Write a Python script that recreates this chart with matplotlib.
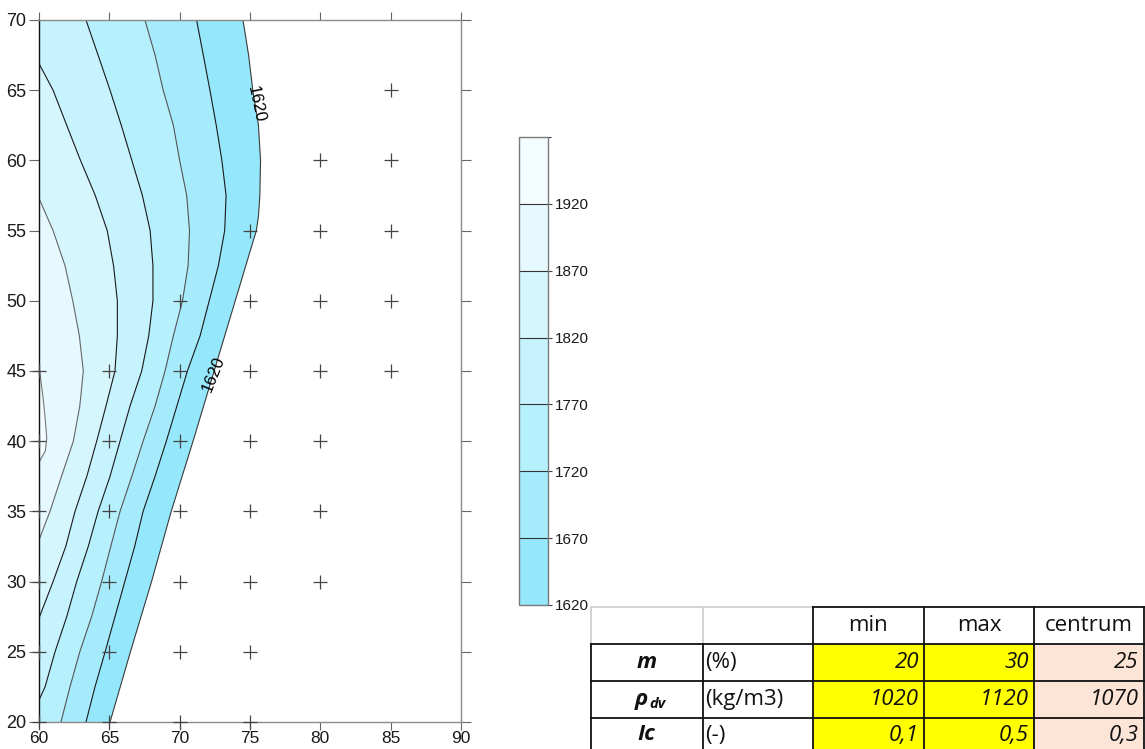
import numpy as np
import matplotlib
matplotlib.use('Agg')
import matplotlib.pyplot as plt
from matplotlib.colors import ListedColormap, BoundaryNorm
from matplotlib.cm import ScalarMappable

plt.rcParams['font.family'] = ['Liberation Sans', 'DejaVu Sans']

# ---------------- data ----------------
levels = [1620, 1670, 1720, 1770, 1820, 1870, 1920, 1970]
band_colors = ['#95E7FB', '#A6EBFC', '#B6F0FD', '#C6F3FD', '#D6F6FE', '#E6F9FE', '#F3FCFF']
line_colors = ['#3a3a3a', '#1a1a1a', '#555555', '#1a1a1a', '#1a1a1a', '#666666', '#777777']

# isolines: x position of each contour level along y
iso_1620_y = [20, 25, 30, 35, 40, 45, 50, 52.5, 55, 56, 57.5, 60, 62.5, 65, 67.5, 70]
iso_1620_x = [65.05, 66.5, 68.0, 69.4, 70.95, 72.45, 73.95, 74.7, 75.45, 75.6, 75.7, 75.75, 75.6, 75.2, 74.9, 74.5]

iso_1670_y = [20, 22.5, 25, 27.5, 30, 32.5, 35, 37.5, 40, 42.5, 45, 47.5, 50, 52.5, 55, 57.5, 60, 62.5, 65, 67.5, 70]
iso_1670_x = [63.34, 63.98, 64.7, 65.4, 66.1, 66.8, 67.4, 68.25, 69.05, 69.8, 70.55, 71.45, 72.1, 72.75, 73.2, 73.3, 73.0, 72.6, 72.15, 71.68, 71.2]

iso_1720_y = [20, 22.5, 25, 27.5, 30, 32.5, 35, 37.5, 40, 42.5, 45, 47.5, 50, 52.5, 55, 57.5, 60, 62.5, 65, 67.5, 70]
iso_1720_x = [61.56, 62.2, 62.9, 63.74, 64.45, 65.1, 65.76, 66.6, 67.4, 68.25, 68.96, 69.55, 70.2, 70.6, 70.7, 70.5, 70.0, 69.55, 68.83, 68.25, 67.53]

iso_1770_y = [21.57, 22.5, 25, 27.5, 30, 32.5, 35, 37.5, 40, 42.5, 45, 47.5, 50, 52.5, 55, 57.5, 60, 62.5, 65, 67.5, 70]
iso_1770_x = [60.0, 60.43, 61.14, 61.97, 62.68, 63.5, 64.2, 65.05, 65.76, 66.47, 67.3, 67.8, 68.1, 68.1, 67.9, 67.35, 66.6, 65.85, 65.05, 64.2, 63.34]

iso_1820_y = [27.4, 30, 32.5, 35, 37.5, 40, 42.5, 45, 47.5, 50, 52.5, 55, 57.5, 60, 62.5, 65, 66.9]
iso_1820_x = [60.0, 61.0, 61.9, 62.56, 63.4, 64.1, 64.76, 65.4, 65.57, 65.57, 65.3, 64.85, 64.0, 62.95, 61.97, 61.0, 60.0]

iso_1870_y = [32.96, 35, 37.5, 40, 42.5, 45, 47.5, 50, 52.5, 55, 57.3]
iso_1870_x = [60.0, 60.78, 61.6, 62.44, 62.9, 63.15, 62.87, 62.4, 61.85, 61.0, 60.0]

iso_1920_y = [38.5, 39.3, 40.2, 41.5, 43, 44.6, 45.3]
iso_1920_x = [60.0, 60.45, 60.55, 60.45, 60.3, 60.1, 60.0]

isolines = [(iso_1620_x, iso_1620_y), (iso_1670_x, iso_1670_y), (iso_1720_x, iso_1720_y),
            (iso_1770_x, iso_1770_y), (iso_1820_x, iso_1820_y), (iso_1870_x, iso_1870_y),
            (iso_1920_x, iso_1920_y)]

# measured points (+)
pts_x = [60]*6 + [65]*6 + [70]*7 + [75]*8 + [80]*7 + [85]*5
pts_y = ([20, 25, 30, 35, 40, 45] + [20, 25, 30, 35, 40, 45] + [20, 25, 30, 35, 40, 45, 50]
         + [20, 25, 30, 35, 40, 45, 50, 55] + [30, 35, 40, 45, 50, 55, 60] + [45, 50, 55, 60, 65])

# contour labels
label_x = [75.4, 72.4]
label_y = [64.0, 44.8]
label_rot = [-78, 68]

# table
tbl_header = ['', '', 'min', 'max', 'centrum']
tbl_symbols = ['m', 'ρ', 'Ic']
tbl_units = ['(%)', '(kg/m3)', '(-)']
tbl_min = ['20', '1020', '0,1']
tbl_max = ['30', '1120', '0,5']
tbl_center = ['25', '1070', '0,3']

# ---------------- figure ----------------
W, H = 1145, 749
fig = plt.figure(figsize=(W/100, H/100), dpi=100)
fig.patch.set_facecolor('white')

xmin, xmax, ymin, ymax = 60, 90, 20, 70
ax = fig.add_axes([39/W, 1 - 722/H, 422/W, 702/H])
ax.set_xlim(xmin, xmax)
ax.set_ylim(ymin, ymax)

for i, (xs, ys) in enumerate(isolines):
    px = list(xs)
    py = list(ys)
    if py[-1] == ymax:
        px.append(xmin); py.append(ymax)
    if py[0] == ymin:
        px.append(xmin); py.append(ymin)
    ax.fill(px, py, color=band_colors[i], lw=0, zorder=1)
for i, (xs, ys) in enumerate(isolines):
    ax.plot(xs, ys, color=line_colors[i], lw=0.8, zorder=2)

ax.plot(pts_x, pts_y, linestyle='none', marker='+', ms=10, mew=0.9, color='#444444',
        zorder=4, clip_on=False)

for lx, ly, lr in zip(label_x, label_y, label_rot):
    ax.text(lx, ly, str(levels[0]), rotation=lr, ha='center', va='center', fontsize=12,
            color='black', zorder=5, rotation_mode='anchor')

ax.set_xticks(range(60, 91, 5))
ax.set_yticks(range(20, 71, 5))
for s in ['top', 'right', 'bottom']:
    ax.spines[s].set_color('#8a8a8a')
    ax.spines[s].set_linewidth(1.0)
ax.spines['left'].set_color('#111111')
ax.spines['left'].set_linewidth(1.0)
ax.tick_params(which='both', direction='out', length=7, width=0.8, color='#666666',
               labelsize=13, labelcolor='#1a1a1a', top=True, right=True,
               labeltop=False, labelright=False, pad=2)
ax.tick_params(axis='x', which='both', length=6, labelsize=12.5, pad=0.5)

# ---------------- colorbar ----------------
cax = fig.add_axes([519/W, 1 - 605/H, 28.5/W, 468/H])
cmap = ListedColormap(band_colors)
norm = BoundaryNorm(levels, cmap.N)
cb = fig.colorbar(ScalarMappable(norm=norm, cmap=cmap), cax=cax, drawedges=True,
                  ticks=levels[:-1])
cb.outline.set_edgecolor('#7a7a7a')
cb.outline.set_linewidth(1.0)
cb.dividers.set_color('#333333')
cb.dividers.set_linewidth(0.8)
cax.tick_params(length=3, width=0.8, color='#444444', labelsize=11, labelcolor='#1a1a1a', pad=2)

# ---------------- table ----------------
tax = fig.add_axes([0, 0, 1, 1], zorder=-1)
tax.set_xlim(0, W)
tax.set_ylim(H, 0)
tax.axis('off')

col_edges = [590.5, 702.5, 812.5, 924, 1034, 1143.5]
row_edges = [606.5, 644, 681, 718, 758]
yellow = '#FFFF00'
peach = '#FCE4D6'
tfont = ['Open Sans', 'DejaVu Sans']
fs = 16

for r in range(1, 4):
    for c in range(2, 5):
        col = yellow if c < 4 else peach
        tax.fill_between([col_edges[c], col_edges[c+1]], row_edges[r], row_edges[r+1],
                         color=col, lw=0)

gray = '#d0d0d0'
blk = '#111111'
lw = 1.3
tax.plot([col_edges[0], col_edges[2]], [row_edges[0]]*2, color=gray, lw=lw)
tax.plot([col_edges[2], col_edges[5]], [row_edges[0]]*2, color=blk, lw=lw)
for c in [0, 1]:
    tax.plot([col_edges[c]]*2, [row_edges[0], row_edges[1]], color=gray, lw=lw)
for c in [2, 3, 4, 5]:
    tax.plot([col_edges[c]]*2, [row_edges[0], row_edges[4]], color=blk, lw=lw)
for c in [0, 1]:
    tax.plot([col_edges[c]]*2, [row_edges[1], row_edges[4]], color=blk, lw=lw)
for r in [1, 2, 3]:
    tax.plot([col_edges[0], col_edges[5]], [row_edges[r]]*2, color=blk, lw=lw)

def ymid(r):
    return (row_edges[r] + min(row_edges[r+1], 754)) / 2

for c in range(2, 5):
    tax.text((col_edges[c] + col_edges[c+1]) / 2, ymid(0), tbl_header[c], ha='center',
             va='center', fontsize=fs, family=tfont, color='#111111')

for r in range(3):
    yy = ymid(r + 1)
    if r == 2:
        yy = 735
    cx0 = (col_edges[0] + col_edges[1]) / 2
    if r == 1:
        tax.text(cx0 + 1, yy, tbl_symbols[r], ha='right', va='center', fontsize=fs,
                 family=tfont, fontweight='bold', style='italic', color='#111111')
        tax.text(cx0 + 3, yy + 5, 'dv', ha='left', va='center', fontsize=10.5,
                 family=tfont, fontweight='bold', style='italic', color='#111111')
    else:
        tax.text(cx0, yy, tbl_symbols[r], ha='center', va='center', fontsize=fs,
                 family=tfont, fontweight='bold', style='italic', color='#111111')
    tax.text(col_edges[1] + 3, yy, tbl_units[r], ha='left', va='center', fontsize=fs,
             family=tfont, color='#111111')
    for c, vals in zip([2, 3, 4], [tbl_min, tbl_max, tbl_center]):
        tax.text(col_edges[c+1] - 5, yy, vals[r], ha='right', va='center', fontsize=fs,
                 family=tfont, style='italic', color='#111111')

fig.savefig('out.png', dpi=100)
